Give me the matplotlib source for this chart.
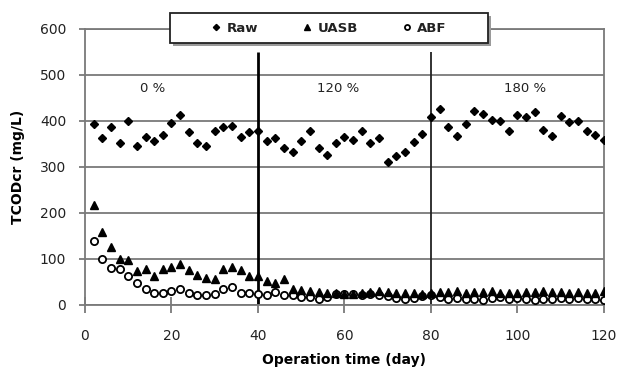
import matplotlib.pyplot as plt
import matplotlib.patches as patches
import numpy as np

# operation days (sampled every 2nd day)
days = np.arange(2, 121, 2)

raw = [392, 362, 386, 352, 399, 346, 365, 357, 370, 395,
       412, 375, 352, 344, 378, 386, 389, 365, 375, 378,
       357, 362, 341, 333, 355, 378, 341, 325, 352, 364,
       358, 378, 352, 362, 310, 324, 331, 354, 372, 407,
       425, 387, 367, 392, 422, 415, 402, 399, 378, 412,
       407, 418, 379, 367, 410, 398, 399, 378, 370, 358]

uasb = [217, 159, 125, 100, 98, 74, 77, 63, 77, 82,
        90, 76, 64, 58, 56, 77, 82, 76, 63, 63,
        51, 48, 56, 35, 32, 31, 29, 27, 25, 24,
        24, 27, 29, 30, 28, 27, 26, 25, 24, 27,
        28, 29, 30, 27, 28, 29, 30, 27, 26, 25,
        28, 29, 30, 29, 28, 27, 29, 26, 25, 30]

abf = [139, 99, 80, 77, 63, 48, 34, 27, 25, 31,
       35, 27, 22, 22, 24, 35, 38, 27, 27, 24,
       22, 28, 22, 22, 18, 18, 12, 18, 23, 23,
       23, 22, 24, 22, 20, 16, 14, 15, 20, 22,
       18, 14, 16, 12, 14, 10, 16, 18, 13, 15,
       14, 10, 12, 12, 15, 13, 16, 14, 12, 10]

phase_days = [40, 80]
phase_labels = ["0 %", "120 %", "180 %"]
phase_label_x = [15.7, 58.5, 101.7]

plt.rcParams['font.family'] = ['DejaVu Sans']

fig = plt.figure(figsize=(6.18, 3.71), dpi=100)
ax = fig.add_axes([0.1375, 0.178, 0.8398, 0.745])

grey = '#7a7a7a'
ax.set_xlim(0, 120)
ax.set_ylim(0, 600)
ax.set_xticks(np.arange(0, 121, 20))
ax.set_yticks(np.arange(0, 601, 100))
ax.yaxis.grid(True, color=grey, lw=1.3)
ax.set_axisbelow(True)
for s in ['left', 'right', 'top', 'bottom']:
    ax.spines[s].set_color(grey)
    ax.spines[s].set_linewidth(1.3)

ax.tick_params(axis='x', direction='inout', length=11, width=1.3, color=grey,
               pad=12, labelsize=10, labelcolor='#222222')
ax.tick_params(axis='y', direction='out', length=4.5, width=1.3, color=grey,
               pad=9, labelsize=10, labelcolor='#222222')

# phase boundaries
ax.vlines(phase_days[0], 0, 550, color='black', lw=2, zorder=2)
ax.vlines(phase_days[1], 0, 550, color='#222222', lw=1.3, zorder=2)

l1, = ax.plot(days, raw, 'D', color='black', ms=4.5, ls='none', zorder=3, label='Raw')
l3, = ax.plot(days, abf, 'o', mfc='white', mec='black', mew=1.3, ms=5.2, ls='none', zorder=3, label='ABF')
l2, = ax.plot(days, uasb, '^', color='black', ms=5.5, ls='none', zorder=4, label='UASB')

for x, t in zip(phase_label_x, phase_labels):
    ax.text(x, 470, t, ha='center', va='center', fontsize=9.5, color='#222222')

ax.set_xlabel('Operation time (day)', fontsize=10, fontweight='bold', labelpad=7)
ax.set_ylabel('TCODcr (mg/L)', fontsize=10, fontweight='bold', labelpad=11)

# legend box with shadow
bx, by, bw, bh = 0.164, 0.948, 0.612, 0.108
shadow = patches.Rectangle((bx + 0.006, by - 0.011), bw, bh, transform=ax.transAxes,
                           facecolor='#9a9a9a', edgecolor='none', clip_on=False, zorder=9)
box = patches.Rectangle((bx, by), bw, bh, transform=ax.transAxes,
                        facecolor='white', edgecolor='#222222', lw=1.3, clip_on=False, zorder=10)
ax.add_patch(shadow)
ax.add_patch(box)

leg = ax.legend(handles=[l1, l2, l3], ncol=3, loc='center',
                bbox_to_anchor=(bx + bw / 2, by + bh / 2), frameon=False,
                fontsize=9.5, markerscale=0.7, handlelength=0.8, handletextpad=0.4,
                columnspacing=3.3, borderpad=0)
leg.set_zorder(11)
for t in leg.get_texts():
    t.set_fontweight('bold')
    t.set_color('#222222')

fig.savefig('out.png', dpi=100)
